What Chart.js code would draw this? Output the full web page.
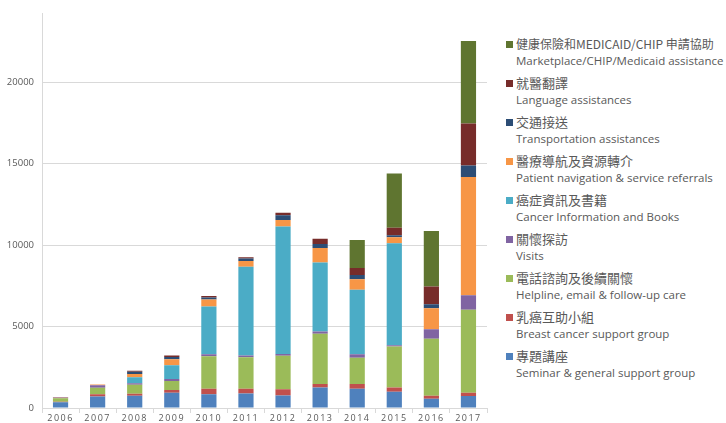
<!DOCTYPE html>
<html>
<head>
<meta charset="utf-8">
<script src="https://cdn.jsdelivr.net/npm/chart.js@4"></script>
<style>
  body { margin: 0; background: #fff; }
  #wrap { position: absolute; left: 0; top: 0; width: 495px; height: 423px; }
  #legend { position: absolute; left: 505px; top: 0; width: 221px; height: 423px; overflow: hidden; }
  .item { position: absolute; left: 0; white-space: nowrap; color: #595959; }
  .box { position: absolute; left: 1px; width: 7px; height: 7px; }
  .zh { position: absolute; left: 11px; font-family: "Noto Sans CJK TC", "Open Sans", sans-serif; font-size: 13px; line-height: 16px; }
  .en { position: absolute; left: 11px; font-family: "Open Sans", sans-serif; font-size: 11.5px; line-height: 14px; }
</style>
</head>
<body>
<div id="wrap"><canvas id="chart"></canvas></div>
<div id="legend"></div>
<script>
var years = ['2006','2007','2008','2009','2010','2011','2012','2013','2014','2015','2016','2017'];
var yTicks = [0, 5000, 10000, 15000, 20000];

// bottom to top of each stack
var seminar     = [350, 710, 750, 930, 850, 890, 770, 1255, 1175, 995, 565, 730];
var breastGroup = [30, 140, 120, 180, 325, 285, 385, 225, 305, 265, 180, 200];
var helpline    = [220, 400, 550, 550, 2000, 1945, 2045, 3080, 1600, 2510, 3505, 5105];
var visits      = [50, 140, 100, 120, 120, 100, 120, 140, 225, 80, 590, 890];
var cancerInfo  = [0, 0, 365, 850, 2940, 5450, 7820, 4235, 3950, 6260, 0, 0];
var navigation  = [20, 50, 200, 365, 425, 345, 405, 890, 650, 365, 1275, 7255];
var transport   = [0, 0, 140, 140, 120, 160, 285, 245, 265, 120, 245, 710];
var language    = [0, 0, 60, 80, 100, 80, 160, 325, 425, 465, 1095, 2575];
var marketplace = [0, 0, 0, 0, 0, 0, 0, 0, 1720, 3325, 3405, 5065];

var namesZh = ['專題講座','乳癌互助小組','電話諮詢及後續關懷','關懷探訪','癌症資訊及書籍','醫療導航及資源轉介','交通接送','就醫翻譯','健康保險和MEDICAID/CHIP 申請協助'];
var namesEn = ['Seminar & general support group','Breast cancer support group','Helpline, email & follow-up care','Visits','Cancer Information and Books','Patient navigation & service referrals','Transportation assistances','Language assistances','Marketplace/CHIP/Medicaid assistance'];
var colors  = ['#4F81BD','#C0504D','#9BBB59','#8064A2','#4BACC6','#F79646','#2C4D75','#772C2A','#5F7530'];
var series  = [seminar, breastGroup, helpline, visits, cancerInfo, navigation, transport, language, marketplace];

var datasets = [];
for (var i = 0; i < series.length; i++) {
    datasets.push({
        label: namesEn[i],
        data: series[i],
        backgroundColor: colors[i],
        borderWidth: 0,
        barPercentage: 0.41,
        categoryPercentage: 1
    });
}

// letter spaced x labels (drawn after datasets, z:1)
var spacingPlugin = {
    id: 'spacing',
    afterDatasetsDraw: function(chart) { chart.ctx.letterSpacing = '1.5px'; },
    afterDraw: function(chart) { chart.ctx.letterSpacing = '0px'; }
};

var chart = new Chart(document.getElementById('chart'), {
    type: 'bar',
    data: { labels: years, datasets: datasets },
    plugins: [spacingPlugin],
    options: {
        responsive: true,
        maintainAspectRatio: false,
        animation: false,
        layout: { padding: { top: 10, right: 8, left: 0, bottom: 0 } },
        plugins: { legend: { display: false }, tooltip: { enabled: false } },
        scales: {
            x: {
                stacked: true,
                grid: { offset: true, drawOnChartArea: false, color: '#D9D9D9', tickLength: 5 },
                border: { color: '#D9D9D9' },
                ticks: { z: 1, color: '#595959', font: { family: 'Open Sans', size: 9 }, padding: 0, maxRotation: 0 },
                afterFit: function(s) { s.height = 15; }
            },
            y: {
                stacked: true,
                min: 0,
                max: 24200,
                grid: { color: '#D9D9D9', tickLength: 0 },
                border: { color: '#D9D9D9' },
                ticks: {
                    color: '#595959', font: { family: 'Open Sans', size: 9.5 }, padding: 8,
                    callback: function(v) { return String(v); }
                },
                afterBuildTicks: function(s) { s.ticks = yTicks.map(function(v) { return { value: v }; }); },
                afterFit: function(s) { s.width = 42; }
            }
        }
    }
});

// legend, top item is the last series
var legend = document.getElementById('legend');
for (var k = 0; k < series.length; k++) {
    var idx = series.length - 1 - k;
    var y = 44 + k * 39;
    var it = document.createElement('div');
    it.className = 'item';
    it.style.top = (y - 8) + 'px';
    var zhSize = k === 0 ? 'font-size:12px;' : '';
    it.innerHTML = '<div class="box" style="top:5px;background:' + colors[idx] + '"></div>' +
        '<div class="zh" style="top:0;' + zhSize + '">' + namesZh[idx] + '</div>' +
        '<div class="en" style="top:18px">' + namesEn[idx].replace(/&/g, '&amp;') + '</div>';
    legend.appendChild(it);
}
</script>
</body>
</html>
